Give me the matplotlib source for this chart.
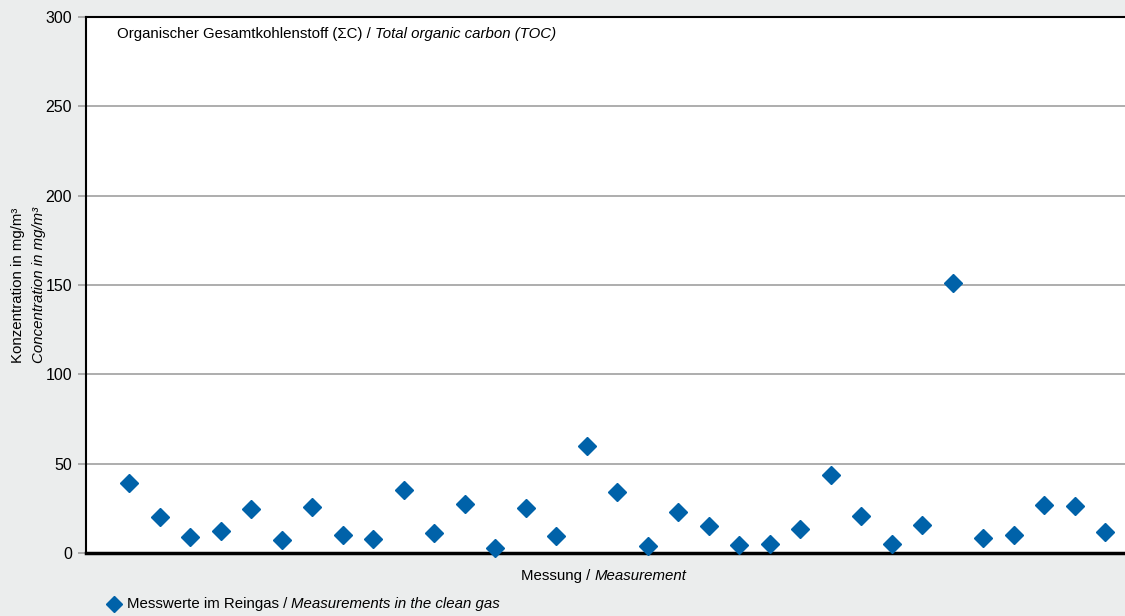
import matplotlib.pyplot as plt
import numpy as np

plt.rcParams['font.family'] = ['Liberation Sans', 'DejaVu Sans']

# Messwerte TOC in mg/m3, eine Messung je Punkt
messung = np.arange(1, 34)
toc = [39, 20, 9, 12.5, 24.5, 7, 26, 10, 8, 35, 11, 27.5, 3, 25, 9.5,
       60, 34, 4, 23, 15, 4.5, 5, 13.5, 43.5, 20.5, 5, 15.5, 151,
       8.5, 10, 27, 26.5, 12]
y_ticks = [0, 50, 100, 150, 200, 250, 300]

bg = "#ebeded"
blue = "#0062a9"
fs = 10.8
W, H = 1125, 616

fig = plt.figure(figsize=(W / 100, H / 100), dpi=100, facecolor=bg)
ax = fig.add_axes([86 / W, 63 / H, 1 - 86 / W, (553 - 17) / H])
ax.set_facecolor("white")

ax.plot(messung, toc, linestyle="none", marker="D", ms=9.5, color=blue,
        zorder=3, clip_on=False)

ax.set_ylim(0, 300)
ax.set_xlim(1 - 43 / 30.5, 33 + 20 / 30.5)
ax.set_yticks(y_ticks)
ax.set_xticks([])
ax.grid(axis="y", color="#a0a0a0", linewidth=1.2)
ax.tick_params(axis="y", length=6, width=1.2, color="#a0a0a0", labelsize=11.5, pad=4)

for s in ["left", "top"]:
    ax.spines[s].set_linewidth(1.5)
ax.spines["bottom"].set_linewidth(2.5)
ax.spines["right"].set_visible(False)

renderer = fig.canvas.get_renderer()


def mixed_text(x, y, parts, center=False):
    """parts: list of (text, style); x, y in pixels from top-left"""
    texts = []
    cx = x
    for s, st in parts:
        t = fig.text(cx / W, 1 - y / H, s, fontsize=fs, style=st, va="center", ha="left")
        cx = t.get_window_extent(renderer).x1
        texts.append(t)
    if center:
        shift = (cx - x) / 2
        for t in texts:
            px, py = t.get_position()
            t.set_x(px - shift / W)
    return texts


# Titel im Diagramm
mixed_text(117, 34, [("Organischer Gesamtkohlenstoff (ΣC) / ", "normal"),
                     ("Total organic carbon (TOC)", "italic")])

# x-Achsenbeschriftung
mixed_text(604, 576, [("Messung / ", "normal"), ("Measurement", "italic")], center=True)

# y-Achsenbeschriftung, zweizeilig
fig.text(18 / W, 1 - 285 / H, "Konzentration in mg/m³", fontsize=fs,
         rotation=90, va="center", ha="center")
fig.text(39 / W, 1 - 285 / H, "Concentration in mg/m³", fontsize=fs, style="italic",
         rotation=90, va="center", ha="center")

# Legende
fig.lines.append(plt.Line2D([114 / W], [1 - 604 / H], transform=fig.transFigure,
                            linestyle="none", marker="D", ms=8, color=blue))
mixed_text(127, 604, [("Messwerte im Reingas / ", "normal"),
                      ("Measurements in the clean gas", "italic")])

fig.savefig("out.png", dpi=100, facecolor=bg)
